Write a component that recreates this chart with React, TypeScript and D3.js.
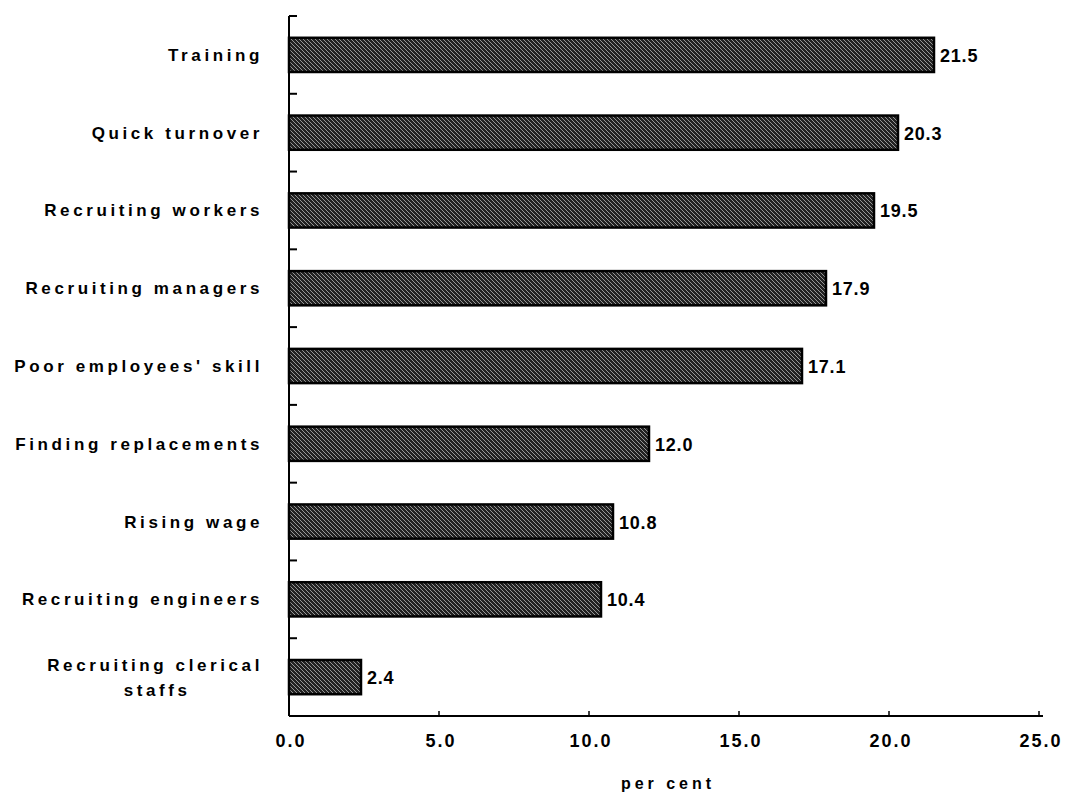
import React, { useEffect, useRef } from "react";
import * as d3 from "d3";

// Share of firms citing each labour problem, per cent
const categories: string[][] = [
  ["Training"],
  ["Quick turnover"],
  ["Recruiting workers"],
  ["Recruiting managers"],
  ["Poor employees' skill"],
  ["Finding replacements"],
  ["Rising wage"],
  ["Recruiting engineers"],
  ["Recruiting clerical", "staffs"],
];
const values: number[] = [21.5, 20.3, 19.5, 17.9, 17.1, 12.0, 10.8, 10.4, 2.4];
const xTicks: number[] = [0, 5, 10, 15, 20, 25];
const xTitle = "per cent";

const W = 1066;
const H = 793;
const FONT = "'Liberation Sans', Arial, sans-serif";

export default function App() {
  const ref = useRef<SVGSVGElement | null>(null);

  useEffect(() => {
    const svg = d3.select(ref.current);
    svg.selectAll("*").remove();

    const left = 289;
    const top = 16;
    const bottom = 716;

    const x = d3.scaleLinear().domain([0, 25]).range([left, left + 750]);
    const keys = categories.map((_, i) => String(i));
    const y = d3.scaleBand().domain(keys).range([top, bottom]).paddingInner(0.56).paddingOuter(0.28);

    // halftone-like fill for the bars
    const defs = svg.append("defs");
    const pat = defs
      .append("pattern")
      .attr("id", "barFill")
      .attr("patternUnits", "userSpaceOnUse")
      .attr("width", 4)
      .attr("height", 4);
    pat.append("rect").attr("width", 4).attr("height", 4).attr("fill", "#222");
    pat
      .append("path")
      .attr("d", "M0,0 L4,4 M-1,3 L1,5 M3,-1 L5,1")
      .attr("stroke", "#b4b4b4")
      .attr("stroke-width", 0.8);

    // bars
    svg
      .append("g")
      .selectAll("rect")
      .data(values)
      .join("rect")
      .attr("x", x(0))
      .attr("y", (_, i) => y(String(i))!)
      .attr("width", (d) => x(d) - x(0))
      .attr("height", y.bandwidth())
      .attr("fill", "url(#barFill)")
      .attr("stroke", "#000")
      .attr("stroke-width", 2.5);

    // value labels
    svg
      .append("g")
      .selectAll("text")
      .data(values)
      .join("text")
      .attr("x", (d) => x(d) + 6)
      .attr("y", (_, i) => y(String(i))! + y.bandwidth() / 2 + 7)
      .attr("font-family", FONT)
      .attr("font-weight", "bold")
      .attr("font-size", 18)
      .attr("letter-spacing", 0.8)
      .attr("fill", "#000")
      .text((d) => d.toFixed(1));

    // category labels (multi-line labels centred on their longest line)
    const labelRight = 263;
    const lg = svg.append("g");
    categories.forEach((lines, i) => {
      const cy = y(String(i))! + y.bandwidth() / 2;
      const lineH = 25;
      const t = lg
        .append("text")
        .attr("font-family", FONT)
        .attr("font-weight", "bold")
        .attr("font-size", 17)
        .attr("letter-spacing", 3.6)
        .attr("fill", "#000");
      if (lines.length === 1) {
        t.attr("x", labelRight).attr("y", cy + 6).attr("text-anchor", "end").text(lines[0]);
      } else {
        const y0 = cy - ((lines.length - 1) * lineH) / 2 + 6;
        const first = t.append("tspan").attr("x", labelRight).attr("y", y0).attr("text-anchor", "end").text(lines[0]);
        const w = (first.node() as SVGTSpanElement).getComputedTextLength();
        const cx = labelRight - w / 2;
        lines.slice(1).forEach((ln, j) => {
          t.append("tspan")
            .attr("x", cx + 2)
            .attr("y", y0 + (j + 1) * lineH)
            .attr("text-anchor", "middle")
            .text(ln);
        });
      }
    });

    // y axis with inward ticks at the band boundaries
    const ay = svg.append("g").attr("stroke", "#000").attr("stroke-width", 2).attr("fill", "none");
    ay.append("line").attr("x1", x(0)).attr("x2", x(0)).attr("y1", top).attr("y2", bottom);
    const step = (bottom - top) / categories.length;
    d3.range(categories.length).forEach((i) => {
      const yy = top + i * step;
      ay.append("line").attr("x1", x(0)).attr("x2", x(0) + 8).attr("y1", yy).attr("y2", yy);
    });

    // x axis with inward ticks
    const ax = svg.append("g");
    ax.append("line")
      .attr("x1", x(0))
      .attr("x2", x(25) + 4)
      .attr("y1", bottom)
      .attr("y2", bottom)
      .attr("stroke", "#000")
      .attr("stroke-width", 2);
    ax.selectAll("line.tick")
      .data(xTicks.slice(1))
      .join("line")
      .attr("class", "tick")
      .attr("x1", (d) => x(d))
      .attr("x2", (d) => x(d))
      .attr("y1", bottom)
      .attr("y2", bottom - 5)
      .attr("stroke", "#000")
      .attr("stroke-width", 1.5);
    ax.selectAll("text")
      .data(xTicks)
      .join("text")
      .attr("x", (d) => x(d) + 2)
      .attr("y", bottom + 31)
      .attr("text-anchor", "middle")
      .attr("font-family", FONT)
      .attr("font-weight", "bold")
      .attr("font-size", 18)
      .attr("letter-spacing", 2)
      .attr("fill", "#000")
      .text((d) => d.toFixed(1));

    svg
      .append("text")
      .attr("x", (x(0) + x(25)) / 2 + 4)
      .attr("y", H - 4)
      .attr("text-anchor", "middle")
      .attr("font-family", FONT)
      .attr("font-weight", "bold")
      .attr("font-size", 16)
      .attr("letter-spacing", 4)
      .attr("fill", "#000")
      .text(xTitle);
  }, []);

  return (
    <svg
      ref={ref}
      width={W}
      height={H}
      style={{ position: "absolute", left: 0, top: 0, display: "block", background: "#fff" }}
    />
  );
}
